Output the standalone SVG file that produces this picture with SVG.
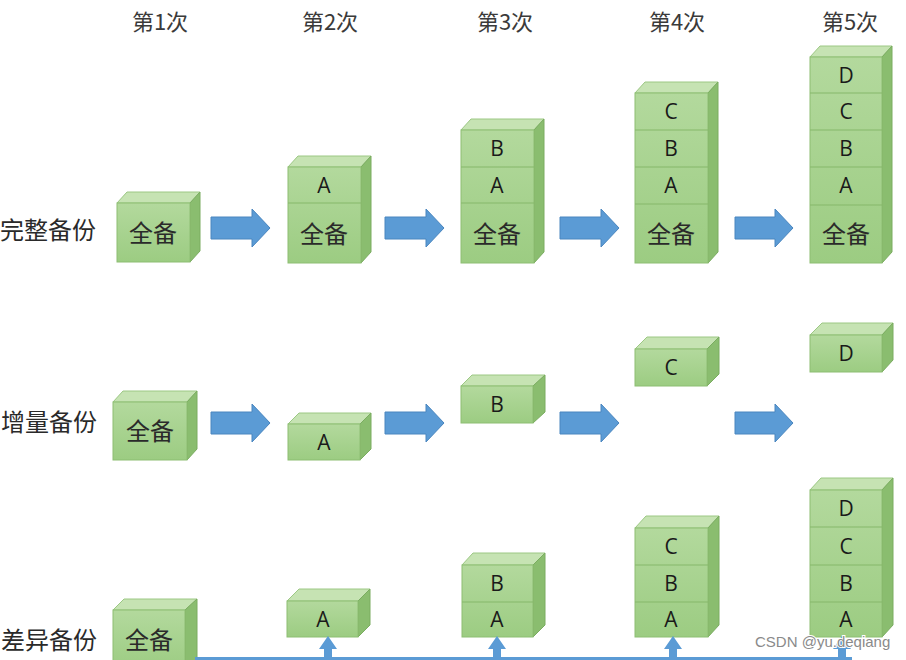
<svg xmlns="http://www.w3.org/2000/svg" width="906" height="660" viewBox="0 0 906 660">
<defs>
<linearGradient id="gf" x1="0" y1="0" x2="0" y2="1">
<stop offset="0" stop-color="#b3d99d"/>
<stop offset="1" stop-color="#9ccc82"/>
</linearGradient>
<style>
.f{fill:url(#gf);stroke:#8dbe73;stroke-width:1}
.t{fill:#c6e3b3;stroke:#9cc884;stroke-width:1}
.r{fill:#8abd6f;stroke:#7aac60;stroke-width:1}
.dv{stroke:#86b86b;stroke-width:1.2}
.cn{font-family:"Noto Sans CJK SC","Noto Sans",sans-serif;fill:#2a2a2a;text-anchor:middle}
.lt{font-family:"Open Sans","Liberation Sans",sans-serif;font-size:21px;fill:#1a1a1a;text-anchor:middle}
.hd{font-family:"Noto Sans CJK SC",sans-serif;font-size:22px;fill:#3a3a3a;text-anchor:middle}
.rl{font-family:"Noto Sans CJK SC",sans-serif;font-size:24px;fill:#2a2a2a}
.ar{fill:#5b9bd5;stroke:#4a86bf;stroke-width:1}
.wm{font-family:"Liberation Sans",sans-serif;font-size:15px;fill:#8a8a8a;stroke:#ffffff;stroke-width:2;paint-order:stroke}
</style>
</defs>
<rect width="906" height="660" fill="#ffffff"/>

<g id="headers">
<text class="hd" x="160" y="30">第1次</text>
<text class="hd" x="330" y="30">第2次</text>
<text class="hd" x="505" y="30">第3次</text>
<text class="hd" x="677" y="30">第4次</text>
<text class="hd" x="850" y="30">第5次</text>
</g>

<g id="row-labels">
<text class="rl" x="0" y="239">完整备份</text>
<text class="rl" x="1" y="431">增量备份</text>
<text class="rl" x="1" y="649">差异备份</text>
</g>

<g id="full-1">
<polygon class="t" points="117,203 127,192 200,192 190,203"/>
<polygon class="r" points="190,203 200,192 200,251 190,262"/>
<rect class="f" x="117" y="203" width="73" height="59"/>
<text class="cn" x="153" y="242" font-size="24">全备</text>
</g>
<g id="full-2">
<polygon class="t" points="288,167 298,156 371,156 361,167"/>
<polygon class="r" points="361,167 371,156 371,252 361,263"/>
<rect class="f" x="288" y="167" width="73" height="96"/>
<line class="dv" x1="288" y1="203" x2="361" y2="203"/>
<text class="lt" x="324" y="193">A</text>
<text class="cn" x="324" y="243" font-size="24">全备</text>
</g>
<g id="full-3">
<polygon class="t" points="461,130 471,119 544,119 534,130"/>
<polygon class="r" points="534,130 544,119 544,252 534,263"/>
<rect class="f" x="461" y="130" width="73" height="133"/>
<line class="dv" x1="461" y1="167" x2="534" y2="167"/>
<line class="dv" x1="461" y1="203" x2="534" y2="203"/>
<text class="lt" x="497" y="156">B</text>
<text class="lt" x="497" y="193">A</text>
<text class="cn" x="497" y="243" font-size="24">全备</text>
</g>
<g id="full-4">
<polygon class="t" points="635,93 645,82 718,82 708,93"/>
<polygon class="r" points="708,93 718,82 718,252 708,263"/>
<rect class="f" x="635" y="93" width="73" height="170"/>
<line class="dv" x1="635" y1="130" x2="708" y2="130"/>
<line class="dv" x1="635" y1="167" x2="708" y2="167"/>
<line class="dv" x1="635" y1="204" x2="708" y2="204"/>
<text class="lt" x="671" y="119">C</text>
<text class="lt" x="671" y="156">B</text>
<text class="lt" x="671" y="193">A</text>
<text class="cn" x="671" y="243" font-size="24">全备</text>
</g>
<g id="full-5">
<polygon class="t" points="810,57 820,46 892,46 882,57"/>
<polygon class="r" points="882,57 892,46 892,252 882,263"/>
<rect class="f" x="810" y="57" width="72" height="206"/>
<line class="dv" x1="810" y1="93" x2="882" y2="93"/>
<line class="dv" x1="810" y1="130" x2="882" y2="130"/>
<line class="dv" x1="810" y1="167" x2="882" y2="167"/>
<line class="dv" x1="810" y1="205" x2="882" y2="205"/>
<text class="lt" x="846" y="83">D</text>
<text class="lt" x="846" y="119">C</text>
<text class="lt" x="846" y="156">B</text>
<text class="lt" x="846" y="193">A</text>
<text class="cn" x="846" y="243" font-size="24">全备</text>
</g>

<g id="inc-1">
<polygon class="t" points="113,402 123,391 197,391 187,402"/>
<polygon class="r" points="187,402 197,391 197,449 187,460"/>
<rect class="f" x="113" y="402" width="74" height="58"/>
<text class="cn" x="150" y="440" font-size="24">全备</text>
</g>
<g id="inc-2">
<polygon class="t" points="288,424 299,413 371,413 360,424"/>
<polygon class="r" points="360,424 371,413 371,449 360,460"/>
<rect class="f" x="288" y="424" width="72" height="36"/>
<text class="lt" x="324" y="450">A</text>
</g>
<g id="inc-3">
<polygon class="t" points="461,386 472,375 545,375 533,386"/>
<polygon class="r" points="533,386 545,375 545,412 533,423"/>
<rect class="f" x="461" y="386" width="72" height="37"/>
<text class="lt" x="497" y="412">B</text>
</g>
<g id="inc-4">
<polygon class="t" points="635,349 647,337 719,337 707,349"/>
<polygon class="r" points="707,349 719,337 719,374 707,386"/>
<rect class="f" x="635" y="349" width="72" height="37"/>
<text class="lt" x="671" y="375">C</text>
</g>
<g id="inc-5">
<polygon class="t" points="810,335 822,323 893,323 882,335"/>
<polygon class="r" points="882,335 893,323 893,360 882,372"/>
<rect class="f" x="810" y="335" width="72" height="37"/>
<text class="lt" x="846" y="361">D</text>
</g>

<g id="diff-1">
<polygon class="t" points="113,610 124,599 197,599 185,610"/>
<polygon class="r" points="185,610 197,599 197,670 185,680"/>
<rect class="f" x="113" y="610" width="72" height="60"/>
<text class="cn" x="149" y="649" font-size="24">全备</text>
</g>
<g id="diff-2">
<polygon class="t" points="287,601 299,589 370,589 358,601"/>
<polygon class="r" points="358,601 370,589 370,625 358,637"/>
<rect class="f" x="287" y="601" width="71" height="36"/>
<text class="lt" x="323" y="627">A</text>
</g>
<g id="diff-3">
<polygon class="t" points="462,565 473,553 545,553 533,565"/>
<polygon class="r" points="533,565 545,553 545,625 533,637"/>
<rect class="f" x="462" y="565" width="71" height="72"/>
<line class="dv" x1="462" y1="602" x2="533" y2="602"/>
<text class="lt" x="497" y="591">B</text>
<text class="lt" x="497" y="627">A</text>
</g>
<g id="diff-4">
<polygon class="t" points="635,528 646,516 719,516 708,528"/>
<polygon class="r" points="708,528 719,516 719,625 708,637"/>
<rect class="f" x="635" y="528" width="73" height="109"/>
<line class="dv" x1="635" y1="565" x2="708" y2="565"/>
<line class="dv" x1="635" y1="602" x2="708" y2="602"/>
<text class="lt" x="671" y="554">C</text>
<text class="lt" x="671" y="591">B</text>
<text class="lt" x="671" y="627">A</text>
</g>
<g id="diff-5">
<polygon class="t" points="810,490 821,478 893,478 882,490"/>
<polygon class="r" points="882,490 893,478 893,625 882,637"/>
<rect class="f" x="810" y="490" width="72" height="147"/>
<line class="dv" x1="810" y1="527" x2="882" y2="527"/>
<line class="dv" x1="810" y1="565" x2="882" y2="565"/>
<line class="dv" x1="810" y1="602" x2="882" y2="602"/>
<text class="lt" x="846" y="516">D</text>
<text class="lt" x="846" y="554">C</text>
<text class="lt" x="846" y="591">B</text>
<text class="lt" x="846" y="627">A</text>
</g>

<g id="connectors">
<path class="ar" d="M211,217 H252 V209 L270,228 L252,247 V239 H211 Z"/>
<path class="ar" d="M385,217 H426 V209 L444,228 L426,247 V239 H385 Z"/>
<path class="ar" d="M560,217 H601 V209 L619,228 L601,247 V239 H560 Z"/>
<path class="ar" d="M735,217 H775 V209 L793,228 L775,247 V239 H735 Z"/>
<path class="ar" d="M211,412 H252 V404 L270,423 L252,442 V434 H211 Z"/>
<path class="ar" d="M385,412 H426 V404 L444,423 L426,442 V434 H385 Z"/>
<path class="ar" d="M560,412 H601 V404 L619,423 L601,442 V434 H560 Z"/>
<path class="ar" d="M735,412 H775 V404 L793,423 L775,442 V434 H735 Z"/>
<line x1="195" y1="658.5" x2="852" y2="658.5" stroke="#5b9bd5" stroke-width="3"/>
<path d="M328,636 L337,649 H332 V658 H324 V649 H319 Z" fill="#5b9bd5"/>
<path d="M497,636 L506,649 H501 V658 H493 V649 H488 Z" fill="#5b9bd5"/>
<path d="M673,636 L682,649 H677 V658 H669 V649 H664 Z" fill="#5b9bd5"/>
<path d="M842,636 L851,649 H846 V658 H838 V649 H833 Z" fill="#5b9bd5"/>
</g>

<text class="wm" x="755" y="647">CSDN @yu.deqiang</text>
</svg>
